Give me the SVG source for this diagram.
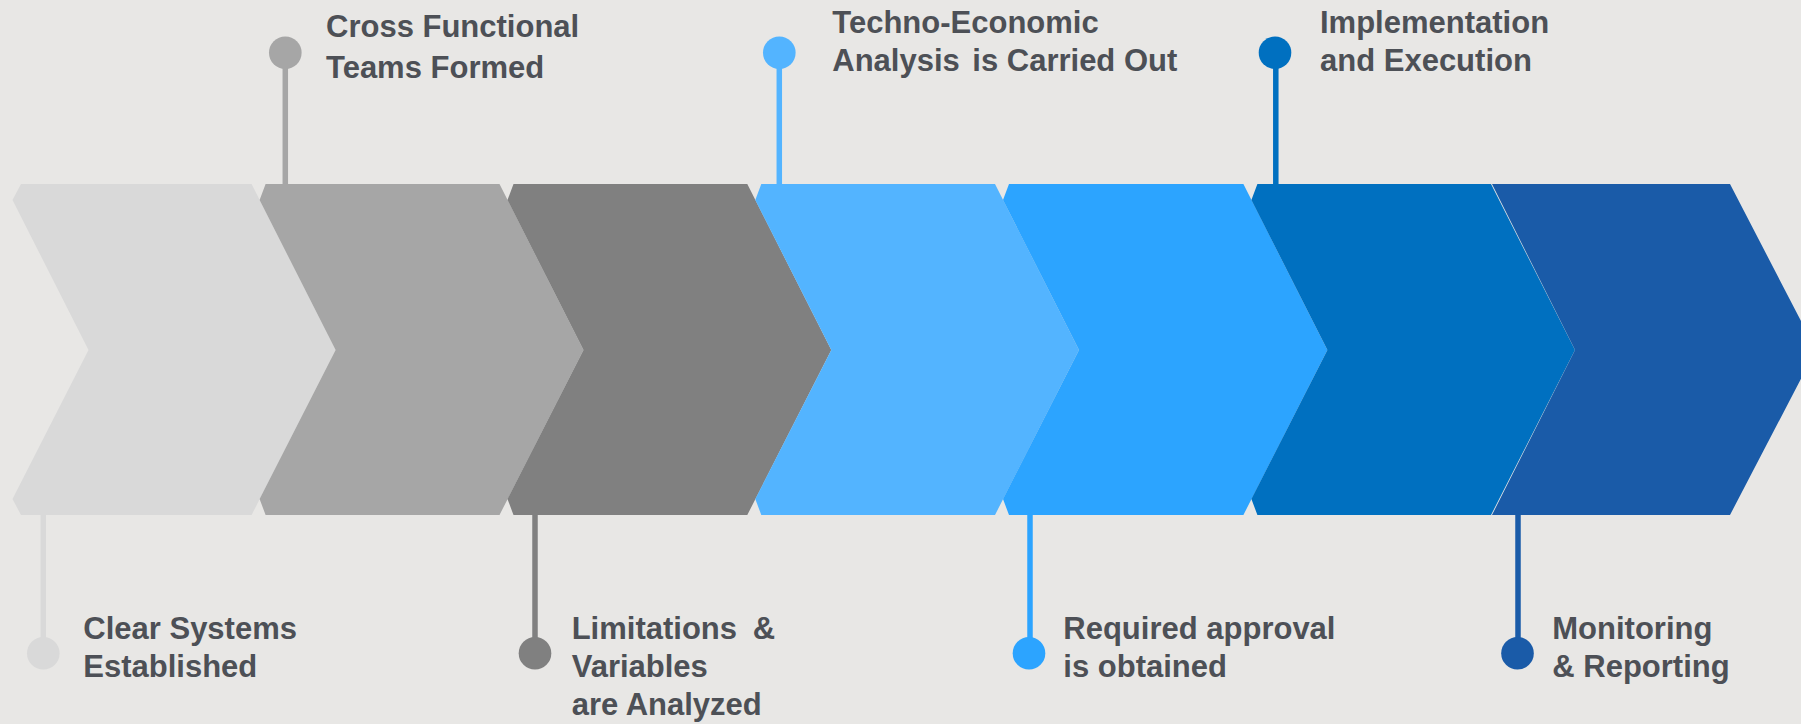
<svg xmlns="http://www.w3.org/2000/svg" width="1801" height="724" viewBox="0 0 1801 724">
<style>
.lbl{font-family:"Liberation Sans",Arial,Helvetica,sans-serif;font-weight:bold;font-size:31px;fill:#4D5056}
.stem{stroke-width:5.5;fill:none}
</style>
<rect x="0" y="0" width="1801" height="724" fill="#E8E7E5"/>
<g id="connectors">
<line class="stem" x1="43.3" y1="515" x2="43.3" y2="653" stroke="#D9D9D9"/>
<line class="stem" x1="285.3" y1="53" x2="285.3" y2="184" stroke="#A6A6A6"/>
<line class="stem" x1="535" y1="515" x2="535" y2="653" stroke="#808080"/>
<line class="stem" x1="779.3" y1="53" x2="779.3" y2="184" stroke="#53B4FF"/>
<line class="stem" x1="1030" y1="515" x2="1030" y2="653" stroke="#2CA4FF"/>
<line class="stem" x1="1275.8" y1="53" x2="1275.8" y2="184" stroke="#0070C0"/>
<line class="stem" x1="1518" y1="515" x2="1518" y2="653" stroke="#1A5BA8"/>
</g>
<g id="step1">
<polygon points="21,184 251.6,184 335.6,350 251.6,515 21,515 12.5,499 88.5,350 12.5,200" fill="#D9D9D9"/>
<circle cx="43.3" cy="653.3" r="16.3" fill="#D9D9D9"/>
<text class="lbl" x="83.3" y="639.3">Clear Systems</text>
<text class="lbl" x="83.3" y="676.7">Established</text>
</g>
<g id="step2">
<polygon points="265.6,184 499.5,184 583.5,350 499.5,515 265.6,515 259.6,499 335.6,350 259.6,200" fill="#A6A6A6"/>
<circle cx="285.3" cy="52.7" r="16.3" fill="#A6A6A6"/>
<text class="lbl" x="326" y="37.3">Cross Functional</text>
<text class="lbl" x="326" y="77.7">Teams Formed</text>
</g>
<g id="step3">
<polygon points="513.5,184 747.3,184 831.3,350 747.3,515 513.5,515 507.5,499 583.5,350 507.5,200" fill="#808080"/>
<circle cx="535" cy="653.3" r="16.3" fill="#808080"/>
<text class="lbl" x="571.7" y="639.3">Limitations<tspan x="752.7">&amp;</tspan></text>
<text class="lbl" x="571.7" y="676.7">Variables</text>
<text class="lbl" x="571.7" y="715">are Analyzed</text>
</g>
<g id="step4">
<polygon points="761.3,184 995,184 1079,350 995,515 761.3,515 755.3,499 831.3,350 755.3,200" fill="#53B4FF"/>
<circle cx="779.3" cy="52.7" r="16.3" fill="#53B4FF"/>
<text class="lbl" x="832.3" y="33.3">Techno-Economic</text>
<text class="lbl" x="832.3" y="70.7">Analysis<tspan x="972.3">is Carried Out</tspan></text>
</g>
<g id="step5">
<polygon points="1009,184 1243.4,184 1327.4,350 1243.4,515 1009,515 1003,499 1079,350 1003,200" fill="#2CA4FF"/>
<circle cx="1029" cy="653.3" r="16.3" fill="#2CA4FF"/>
<text class="lbl" x="1063.3" y="639.3">Required approval</text>
<text class="lbl" x="1063.3" y="676.7">is obtained</text>
</g>
<g id="step6">
<polygon points="1257.4,184 1491,184 1575,350 1491,515 1257.4,515 1251.4,499 1327.4,350 1251.4,200" fill="#0070C0"/>
<circle cx="1275" cy="52.7" r="16.3" fill="#0070C0"/>
<text class="lbl" x="1320" y="33.3">Implementation</text>
<text class="lbl" x="1320" y="71">and Execution</text>
</g>
<g id="step7">
<polygon points="1492,184 1730,184 1816,350 1730,515 1492,515 1575,350" fill="#1A5BA8"/>
<circle cx="1517.5" cy="653.3" r="16.3" fill="#1A5BA8"/>
<text class="lbl" x="1552.3" y="639.3">Monitoring</text>
<text class="lbl" x="1552.3" y="676.7">&amp; Reporting</text>
</g>
</svg>
